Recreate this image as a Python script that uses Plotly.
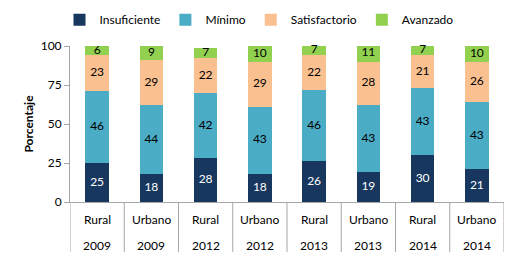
import plotly.graph_objects as go
import numpy as np

zona = ["Rural", "Urbano", "Rural", "Urbano", "Rural", "Urbano", "Rural", "Urbano"]
anio = ["2009", "2009", "2012", "2012", "2013", "2013", "2014", "2014"]

insuficiente = [25, 18, 28, 18, 26, 19, 30, 21]
minimo = [46, 44, 42, 43, 46, 43, 43, 43]
satisfactorio = [23, 29, 22, 29, 22, 28, 21, 26]
avanzado = [6, 9, 7, 10, 7, 11, 7, 10]

series = [
    ("Insuficiente", insuficiente, "#17375E", "white"),
    ("Mínimo", minimo, "#4BACC6", "black"),
    ("Satisfactorio", satisfactorio, "#FAC090", "black"),
    ("Avanzado", avanzado, "#92D050", "black"),
]

FONT = "Lato"
x = list(range(len(zona)))
fig = go.Figure()
base = np.zeros(len(x))
for name, vals, color, tcolor in series:
    v = np.array(vals, dtype=float)
    fig.add_trace(go.Bar(x=x, y=vals, name=name, marker_color=color,
                         marker_line_width=0, width=0.43))
    mid = base + v / 2
    fig.add_trace(go.Scatter(x=x, y=mid, mode="text", text=[str(a) for a in vals],
                             textfont=dict(family=FONT, size=12, color=tcolor),
                             showlegend=False, hoverinfo="skip", cliponaxis=False))
    base = base + v

shapes = []
for i in range(len(x) + 1):
    shapes.append(dict(type="line", xref="x", yref="paper", x0=i - 0.5, x1=i - 0.5,
                       y0=0, y1=-0.32, line=dict(color="#A6A6A6", width=1)))
annotations = []
for i in x:
    annotations.append(dict(x=i, y=-0.115, xref="x", yref="paper", text=zona[i],
                            yanchor="middle", showarrow=False,
                            font=dict(family=FONT, size=12, color="black")))
    annotations.append(dict(x=i, y=-0.276, xref="x", yref="paper", text=anio[i],
                            yanchor="middle", showarrow=False,
                            font=dict(family=FONT, size=12, color="black")))

fig.update_layout(
    barmode="stack",
    width=518, height=260,
    margin=dict(l=70, r=14, t=46, b=58, autoexpand=False),
    paper_bgcolor="white", plot_bgcolor="white",
    font=dict(family=FONT, size=12, color="black"),
    shapes=shapes, annotations=annotations,
    legend=dict(orientation="h", x=0.5, xanchor="center", xref="container",
                y=0.98, yanchor="top", yref="container",
                font=dict(family=FONT, size=12), itemwidth=30,
                traceorder="normal", tracegroupgap=0),
    xaxis=dict(range=[-0.5, 7.5], showticklabels=False, showline=True,
               linecolor="#A6A6A6", showgrid=False, zeroline=False, ticks=""),
    yaxis=dict(range=[0, 100], tickvals=[0, 25, 50, 75, 100], showline=True,
               linecolor="#A6A6A6", ticks="outside", ticklen=5, tickcolor="#A6A6A6",
               showgrid=False, zeroline=False,
               title=dict(text="<b>Porcentaje</b>", font=dict(family=FONT, size=12), standoff=4)),
    bargap=0.57,
)

fig.write_html("out.html", config={"displayModeBar": False},
               post_script="document.body.style.margin='0';")
